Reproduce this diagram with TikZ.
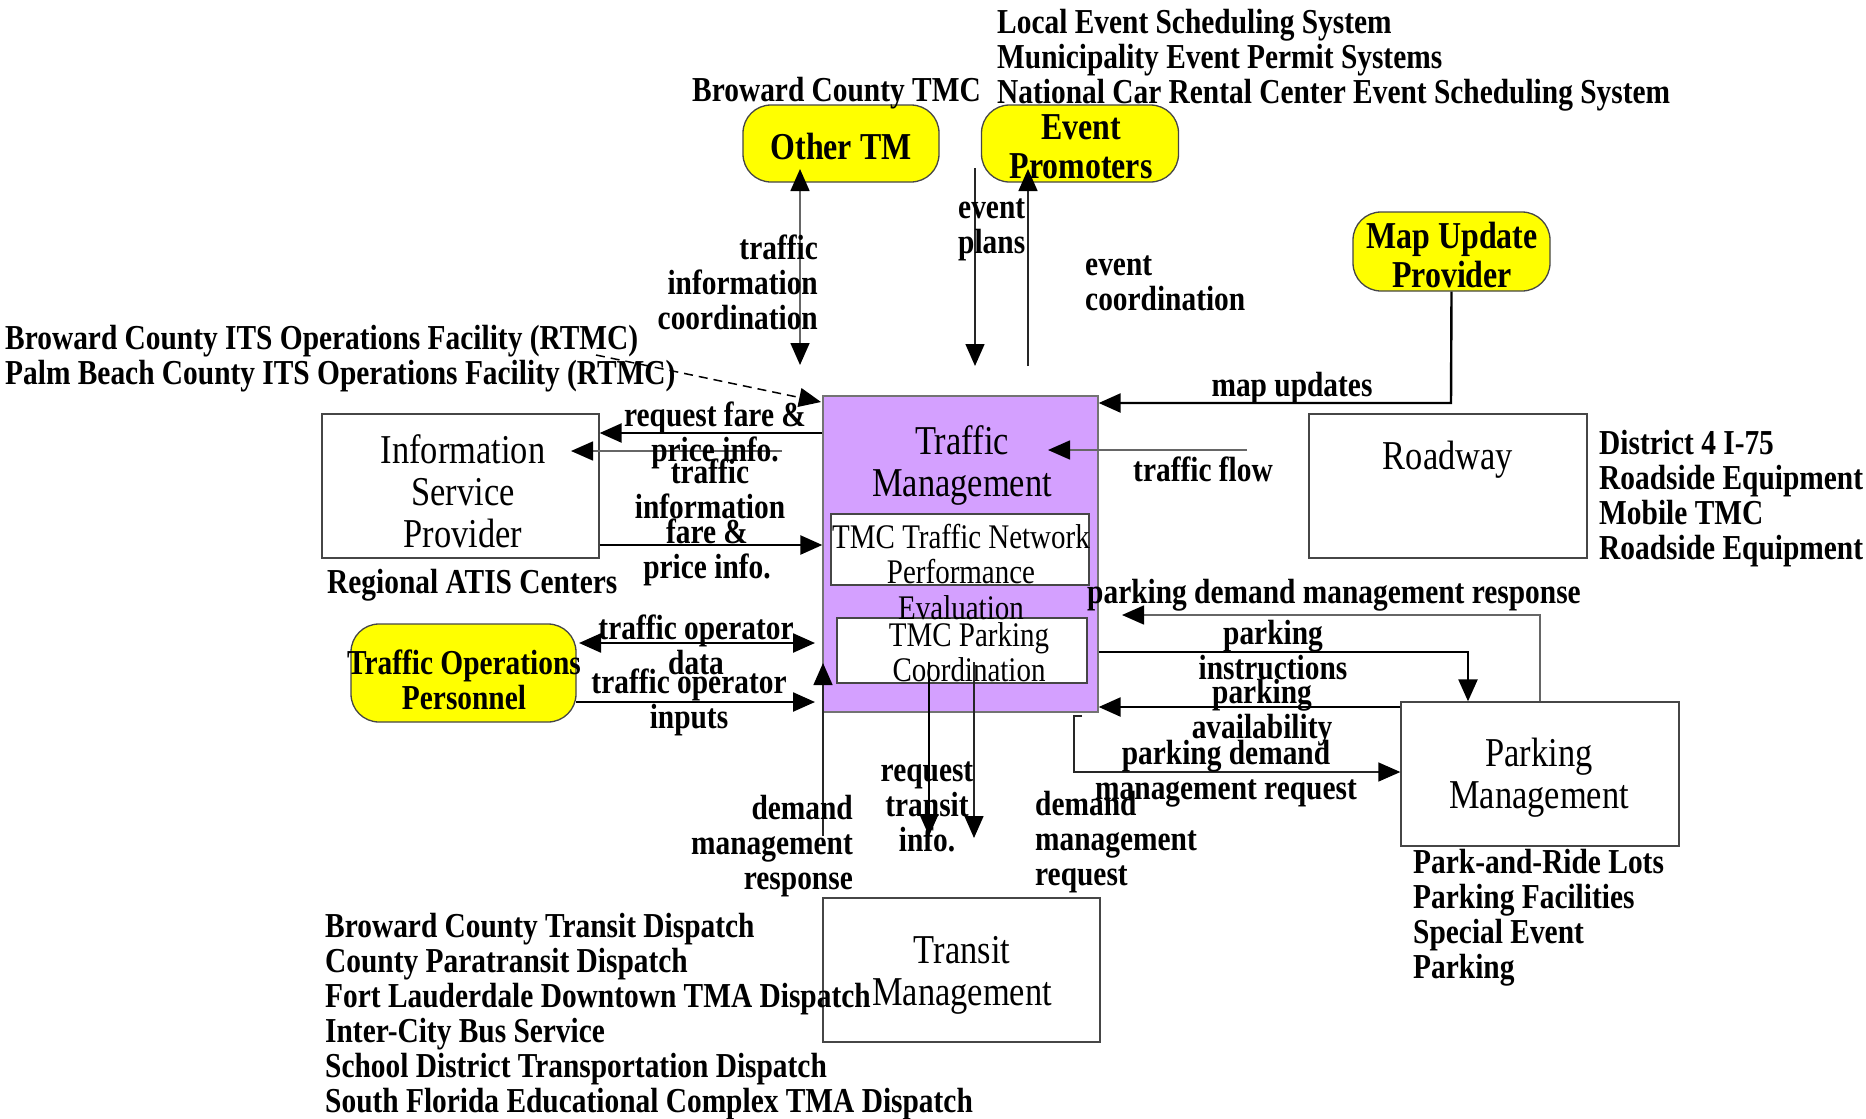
\documentclass[tikz,border=0pt]{standalone}
\usepackage{fontspec}
\setmainfont{Liberation Serif}[FakeStretch=0.84]
\usetikzlibrary{arrows.meta}
\newcommand\lns[2]{\begin{tabular}[t]{@{}#1@{}}#2\end{tabular}}
\definecolor{tmpurple}{RGB}{212,160,255}
\definecolor{ylw}{RGB}{255,255,0}
\definecolor{edge}{RGB}{70,70,70}
\begin{document}
\begin{tikzpicture}[x=1pt,y=-1pt,
  box/.style={draw=edge,line width=1.3pt,fill=white,inner sep=0pt},
  ybox/.style={draw=edge,line width=1.3pt,fill=ylw,rounded corners=28pt,inner sep=0pt},
  lbl/.style={font=\bfseries\fontsize{35}{35}\selectfont,inner sep=0pt,yshift=-1.2pt},
  ybl/.style={font=\bfseries\fontsize{38}{39}\selectfont,inner sep=0pt,yshift=-1.2pt},
  ttl/.style={font=\fontsize{41}{42}\selectfont,inner sep=0pt,yshift=-1.2pt},
  sub/.style={font=\fontsize{34.5}{35.5}\selectfont,inner sep=0pt,yshift=-1.2pt},
  tip/.style={-{Triangle[length=22pt,width=19pt,color=black]}},
  dtip/.style={{Triangle[length=22pt,width=19pt,color=black]}-{Triangle[length=22pt,width=19pt,color=black]}},
  thick1/.style={line width=2.4pt,black},
  thin1/.style={line width=1.4pt,black!85},
  grey1/.style={line width=1.6pt,black!60}]
\useasboundingbox (0,0) rectangle (1866,1119);

% ---- boxes ----
\node[box,draw=black!55,fill=tmpurple,minimum width=275pt,minimum height=316pt] (tm) at (960.5,554) {};
\node[box,minimum width=258pt,minimum height=71pt] (tn) at (960,549.5) {};
\node[box,minimum width=250pt,minimum height=65pt] (tp) at (962,650.5) {};
\node[ybox,minimum width=196pt,minimum height=77pt] (otm) at (841,143.5) {};
\node[ybox,minimum width=197pt,minimum height=77pt] (evp) at (1080,143.5) {};
\node[ybox,minimum width=197pt,minimum height=79pt] (mup) at (1451.5,251.5) {};
\node[box,minimum width=277pt,minimum height=144pt] (isp) at (460.5,486) {};
\node[ybox,minimum width=225pt,minimum height=98pt] (top) at (463.5,673) {};
\node[box,minimum width=278pt,minimum height=144pt] (rd) at (1448,486) {};
\node[box,minimum width=278pt,minimum height=144pt] (pm) at (1540,774) {};
\node[box,minimum width=277pt,minimum height=144pt] (trm) at (961.5,970) {};

% ---- box texts ----
\node[ttl,anchor=base] (tmT) at (962,453) {\lns{c}{Traffic\\Management}};
\node[sub,anchor=base] (tnT) at (961,547) {\lns{c}{TMC Traffic Network\\Performance\\Evaluation}};
\node[sub,anchor=base] (tpT) at (969,645) {\lns{c}{TMC Parking\\Coordination}};
\node[ybl,anchor=base] (otmT) at (841,158) {Other TM};
\node[ybl,anchor=base] (evpT) at (1081,138) {\lns{c}{Event\\Promoters}};
\node[ybl,anchor=base] (mupT) at (1452,247) {\lns{c}{Map Update\\Provider}};
\node[ttl,anchor=base] (ispT) at (463,462) {\lns{c}{Information\\Service\\Provider}};
\node[lbl,anchor=base] (topT) at (464,673) {\lns{c}{Traffic Operations\\Personnel}};
\node[ttl,anchor=base] (rdT) at (1448,468) {Roadway};
\node[ttl,anchor=base] (pmT) at (1539,765) {\lns{c}{Parking\\Management}};
\node[ttl,anchor=base] (trmT) at (962,962) {\lns{c}{Transit\\Management}};

% ---- side labels ----
\node[lbl,anchor=base west] (evsys) at (997,32) {\lns{l}{Local Event Scheduling System\\Municipality Event Permit Systems\\National Car Rental Center Event Scheduling System}};
\node[lbl,anchor=base east] (btmc) at (981,100) {Broward County TMC};
\node[lbl,anchor=base west] (its) at (5,348) {\lns{l}{Broward County ITS Operations Facility (RTMC)\\Palm Beach County ITS Operations Facility (RTMC)}};
\node[lbl,anchor=base west] (atis) at (327,592) {Regional ATIS Centers};
\node[lbl,anchor=base west] (rdL) at (1599,453) {\lns{l}{District 4 I-75\\Roadside Equipment\\Mobile TMC\\Roadside Equipment}};
\node[lbl,anchor=base west] (pmL) at (1413,872) {\lns{l}{Park-and-Ride Lots\\Parking Facilities\\Special Event\\Parking}};
\node[lbl,anchor=base west] (trmL) at (325,936) {\lns{l}{Broward County Transit Dispatch\\County Paratransit Dispatch\\Fort Lauderdale Downtown TMA Dispatch\\Inter-City Bus Service\\School District Transportation Dispatch\\South Florida Educational Complex TMA Dispatch}};

% ---- connectors ----
\coordinate (c1a) at (800,169);  \coordinate (c1b) at (800,365);
\draw[grey1,dtip] (c1a) -- (c1b);
\coordinate (c2a) at (975,168);  \coordinate (c2b) at (975,366);
\draw[thin1,tip] (c2a) -- (c2b);
\coordinate (c3a) at (1028,366); \coordinate (c3b) at (1028,169);
\draw[thin1,tip] (c3a) -- (c3b);
\draw[thick1,tip] (mup.south) -- (1451,403) -- (tm.east |- 0,403);
\coordinate (c5a) at (1247,450); \coordinate (c5b) at (1048,450);
\draw[grey1,tip] (c5a) -- (c5b);
\coordinate (c6a) at (596,355);  \coordinate (c6b) at (821,402);
\draw[line width=1.5pt,dash pattern=on 9pt off 6pt,tip] (c6a) -- (c6b);
\draw[thick1,tip] (tm.west |- 0,433) -- (isp.east |- 0,433);
\coordinate (c8a) at (782,451);  \coordinate (c8b) at (571,451);
\draw[grey1,tip] (c8a) -- (c8b);
\draw[thick1,tip] (isp.east |- 0,545) -- (tm.west |- 0,545);
\coordinate (c10a) at (579,643); \coordinate (c10b) at (815,643);
\draw[thick1,dtip] (c10a) -- (c10b);
\coordinate (c11a) at (576,702); \coordinate (c11b) at (815,702);
\draw[thick1,tip] (c11a) -- (c11b);
\coordinate (c12a) at (823,836); \coordinate (c12b) at (823,663);
\draw[thin1,tip] (c12a) -- (c12b);
\coordinate (c13a) at (929,662); \coordinate (c13b) at (929,836);
\draw[line width=1.8pt,tip] (c13a) -- (c13b);
\coordinate (c14a) at (974,662); \coordinate (c14b) at (974,838);
\draw[thin1,tip] (c14a) -- (c14b);
\coordinate (c15b) at (1122,615);
\draw[grey1,tip] (pm.north -| 1540,0) -- (1540,615) -- (c15b);
\draw[thick1,tip] (tm.east |- 0,652) -- (1468,652) -- (pm.north -| 1468,0);
\draw[thick1,tip] (pm.west |- 0,707) -- (tm.east |- 0,707);
\coordinate (c18a) at (1082,716);
\draw[thin1,tip] (c18a) -- (1074,716) -- (1074,772) -- (pm.west |- 0,772);

% ---- connector labels ----
\node[lbl,anchor=base east] (l1) at (818,258) {\lns{r}{traffic\\information\\coordination}};
\node[lbl,anchor=base west] (l2) at (958,217) {\lns{l}{event\\plans}};
\node[lbl,anchor=base west] (l3) at (1085,274) {\lns{l}{event\\coordination}};
\node[lbl,anchor=base] (l4) at (1292,395) {map updates};
\node[lbl,anchor=base west] (l5) at (1133,480) {traffic flow};
\node[lbl,anchor=base] (l7) at (715,425) {\lns{c}{request fare \&\\price info.}};
\node[lbl,anchor=base] (l8) at (710,482) {\lns{c}{traffic\\information}};
\node[lbl,anchor=base] (l9) at (707,542) {\lns{c}{fare \&\\price info.}};
\node[lbl,anchor=base] (l10) at (696,638) {\lns{c}{traffic operator\\data}};
\node[lbl,anchor=base] (l11) at (689,692) {\lns{c}{traffic operator\\inputs}};
\node[lbl,anchor=base east] (l12) at (853,818) {\lns{r}{demand\\management\\response}};
\node[lbl,anchor=base] (l13) at (927,780) {\lns{c}{request\\transit\\info.}};
\node[lbl,anchor=base west] (l14) at (1035,814) {\lns{l}{demand\\management\\request}};
\node[lbl,anchor=base west] (l15) at (1087,602) {parking demand management response};
\node[lbl,anchor=base] (l16) at (1273,643) {\lns{c}{parking\\instructions}};
\node[lbl,anchor=base] (l17) at (1262,702) {\lns{c}{parking\\availability}};
\node[lbl,anchor=base] (l18) at (1226,763) {\lns{c}{parking demand\\management request}};
\end{tikzpicture}
\end{document}
